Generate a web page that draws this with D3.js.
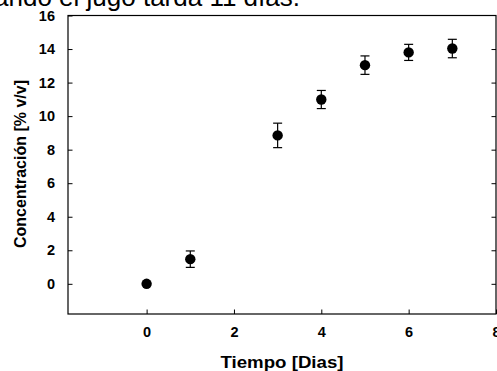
<!DOCTYPE html>
<html>
<head>
<meta charset="utf-8">
<script src="https://cdn.jsdelivr.net/npm/d3@7"></script>
<style>
  body { margin: 0; background: #fff; }
  svg { display: block; font-family: "Liberation Sans", Arial, sans-serif; }
</style>
</head>
<body>
<svg id="chart" width="497" height="371"></svg>
<script>
// data
const dias = [0, 1, 3, 4, 5, 6, 7];
const concentracion = [0, 1.47, 8.85, 10.99, 13.04, 13.8, 14.03];
const errores = [0, 0.49, 0.73, 0.54, 0.55, 0.48, 0.55];
const xTicks = [0, 2, 4, 6, 8];
const yTicks = [0, 2, 4, 6, 8, 10, 12, 14, 16];

const box = { left: 68, right: 496, top: 15.5, bottom: 314 };

const svg = d3.select("#chart");

// cut-off caption line above the chart
svg.append("text")
  .attr("x", -6)
  .attr("y", 6)
  .attr("font-size", 26)
  .attr("fill", "#000")
  .text("ando el jugo tarda 11 días.");

const x = d3.scaleLinear().domain([-1.8, 8]).range([box.left, box.right]);
const y = d3.scaleLinear().domain([-1.8, 16]).range([box.bottom, box.top]);

// frame
svg.append("rect")
  .attr("x", box.left).attr("y", box.top)
  .attr("width", box.right - box.left).attr("height", box.bottom - box.top)
  .attr("fill", "none").attr("stroke", "#000").attr("stroke-width", 1.2);

// bottom axis, ticks inward
const gx = svg.append("g")
  .attr("transform", "translate(0," + box.bottom + ")")
  .call(d3.axisBottom(x).tickValues(xTicks).tickSizeInner(-4.5).tickSizeOuter(0).tickPadding(13));
gx.select(".domain").remove();
gx.selectAll("text").attr("font-size", 14.5).attr("font-weight", "bold").attr("font-family", "Liberation Sans, Arial, sans-serif");

// left axis, ticks inward
const gy = svg.append("g")
  .attr("transform", "translate(" + box.left + ",0)")
  .call(d3.axisLeft(y).tickValues(yTicks).tickSizeInner(-4.5).tickSizeOuter(0).tickPadding(13));
gy.select(".domain").remove();
gy.selectAll("text").attr("font-size", 14.5).attr("font-weight", "bold").attr("font-family", "Liberation Sans, Arial, sans-serif");

// right axis ticks only
const gr = svg.append("g")
  .attr("transform", "translate(" + box.right + ",0)")
  .call(d3.axisRight(y).tickValues(yTicks.filter(d => d < 16)).tickSizeInner(-4.5).tickSizeOuter(0).tickFormat(""));
gr.select(".domain").remove();

// axis titles
svg.append("text")
  .attr("x", (box.left + box.right) / 2)
  .attr("y", 368)
  .attr("text-anchor", "middle")
  .attr("font-size", 17).attr("font-weight", "bold")
  .attr("textLength", 123).attr("lengthAdjust", "spacingAndGlyphs")
  .text("Tiempo [Dias]");

svg.append("text")
  .attr("transform", "translate(26," + 164 + ") rotate(-90)")
  .attr("text-anchor", "middle")
  .attr("font-size", 16).attr("font-weight", "bold")
  .text("Concentración [% v/v]");

const pts = dias.map((d, i) => ({ d: d, c: concentracion[i], e: errores[i] }));

// error bars
const eb = svg.append("g").attr("stroke", "#000").attr("stroke-width", 1.2);
const withErr = pts.filter(p => p.e > 0);
eb.selectAll(".v").data(withErr).enter().append("line")
  .attr("x1", p => x(p.d)).attr("x2", p => x(p.d))
  .attr("y1", p => y(p.c + p.e)).attr("y2", p => y(p.c - p.e));
eb.selectAll(".t").data(withErr).enter().append("line")
  .attr("x1", p => x(p.d) - 4.5).attr("x2", p => x(p.d) + 4.5)
  .attr("y1", p => y(p.c + p.e)).attr("y2", p => y(p.c + p.e));
eb.selectAll(".b").data(withErr).enter().append("line")
  .attr("x1", p => x(p.d) - 4.5).attr("x2", p => x(p.d) + 4.5)
  .attr("y1", p => y(p.c - p.e)).attr("y2", p => y(p.c - p.e));

// markers
svg.selectAll("circle.pt").data(pts).enter().append("circle")
  .attr("class", "pt")
  .attr("cx", p => x(p.d))
  .attr("cy", p => y(p.c))
  .attr("r", 5.2)
  .attr("fill", "#000");
</script>
</body>
</html>
